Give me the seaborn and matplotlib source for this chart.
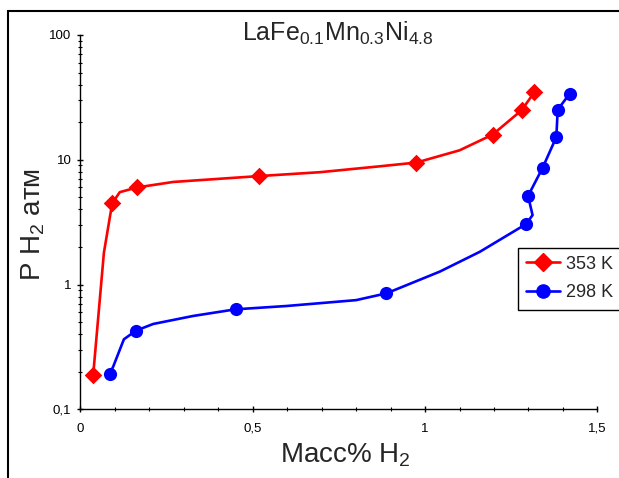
import matplotlib
matplotlib.use("Agg")
import matplotlib.pyplot as plt
import seaborn as sns
from matplotlib.lines import Line2D
from matplotlib.patches import Rectangle
from matplotlib.ticker import FixedLocator, FixedFormatter, NullFormatter

# ---- data ----
t353_x = [0.037, 0.092, 0.164, 0.518, 0.975, 1.196, 1.280, 1.317]
t353_p = [0.19, 4.47, 6.0, 7.4, 9.5, 15.9, 24.9, 34.7]
t353_line_x = [0.037, 0.068, 0.092, 0.114, 0.164, 0.269, 0.518, 0.695, 0.870, 0.975, 1.100, 1.196, 1.280, 1.317]
t353_line_p = [0.19, 1.8, 4.47, 5.5, 6.0, 6.64, 7.4, 7.95, 8.87, 9.5, 11.9, 15.9, 24.9, 34.7]

t298_x = [0.085, 0.161, 0.450, 0.888, 1.293, 1.299, 1.341, 1.381, 1.385, 1.420]
t298_p = [0.193, 0.427, 0.633, 0.85, 3.05, 5.13, 8.6, 15.2, 25.2, 33.9]
t298_line_x = [0.085, 0.095, 0.126, 0.161, 0.211, 0.327, 0.450, 0.598, 0.800, 0.888, 1.043, 1.159, 1.293, 1.312, 1.299, 1.341, 1.381, 1.385, 1.420]
t298_line_p = [0.193, 0.22, 0.364, 0.427, 0.483, 0.56, 0.633, 0.673, 0.75, 0.85, 1.27, 1.83, 3.05, 3.6, 5.13, 8.6, 15.2, 25.2, 33.9]

series_labels = ["353 K", "298 K"]
x_ticks = [0, 0.5, 1, 1.5]
x_tick_labels = ["0", "0,5", "1", "1,5"]
y_ticks = [0.1, 1, 10, 100]
y_tick_labels = ["0,1", "1", "10", "100"]

title = r"LaFe$_{0.1}$Mn$_{0.3}$Ni$_{4.8}$"
xlabel = r"Масс% H$_2$"
ylabel = r"P H$_2$ атм"

# ---- style ----
sns.set_style("ticks")
plt.rcParams["font.family"] = ["Liberation Sans", "DejaVu Sans"]
plt.rcParams["mathtext.fontset"] = "custom"
plt.rcParams["mathtext.rm"] = "Liberation Sans"
plt.rcParams["mathtext.default"] = "regular"

fig = plt.figure(figsize=(6.19, 4.78), dpi=100)
ax = fig.add_axes([0.130, 0.1437, 0.835, 0.7831])

red = "#FF0000"
blue = "#0000FF"
lw = 1.9

sns.lineplot(x=t353_line_x, y=t353_line_p, sort=False, estimator=None,
             color=red, linewidth=lw, ax=ax, legend=False)
sns.lineplot(x=t298_line_x, y=t298_line_p, sort=False, estimator=None,
             color=blue, linewidth=lw, ax=ax, legend=False)
sns.scatterplot(x=t353_x, y=t353_p, marker="D", s=80, color=red,
                edgecolor=red, linewidth=0, ax=ax, legend=False, zorder=3)
sns.scatterplot(x=t298_x, y=t298_p, marker="o", s=90, color=blue,
                edgecolor=blue, linewidth=0, ax=ax, legend=False, zorder=3)

ax.set_yscale("log")
ax.set_xlim(0, 1.5)
ax.set_ylim(0.1, 100)

ax.xaxis.set_major_locator(FixedLocator(x_ticks))
ax.xaxis.set_major_formatter(FixedFormatter(x_tick_labels))
ax.xaxis.set_minor_locator(FixedLocator([i / 10 for i in range(16)]))
ax.yaxis.set_major_locator(FixedLocator(y_ticks))
ax.yaxis.set_major_formatter(FixedFormatter(y_tick_labels))
ax.yaxis.set_minor_formatter(NullFormatter())

ax.tick_params(axis="x", which="major", direction="inout", length=5,
               width=1, labelsize=9.5, pad=7, color="black", labelcolor="black")
ax.tick_params(axis="y", which="major", direction="inout", length=5,
               width=1, labelsize=9.5, pad=4, color="black", labelcolor="black")
ax.tick_params(axis="both", which="minor", direction="inout", length=3,
               width=0.8, color="black")
for s in ["top", "right"]:
    ax.spines[s].set_visible(False)
for s in ["left", "bottom"]:
    ax.spines[s].set_color("black")
    ax.spines[s].set_linewidth(1.0)

ax.set_xlabel(xlabel, fontsize=20)
ax.xaxis.set_label_coords(0.512, -0.085)
ax.set_ylabel(ylabel, fontsize=20)
ax.yaxis.set_label_coords(-0.065, 0.495)

ax.text(0.497, 0.985, title, transform=ax.transAxes, ha="center",
        va="baseline", fontsize=18)

handles = [
    Line2D([], [], color=red, marker="D", markersize=9, linewidth=lw),
    Line2D([], [], color=blue, marker="o", markersize=9.5, linewidth=lw),
]
leg = ax.legend(handles, series_labels, loc="upper left",
                bbox_to_anchor=(0.846, 0.432), fontsize=13, frameon=True,
                fancybox=False, edgecolor="black", framealpha=1,
                handlelength=1.9, handletextpad=0.3, borderpad=0.45,
                labelspacing=0.65, borderaxespad=0)
leg.get_frame().set_linewidth(1.0)

# outer figure frame
fig.patches.append(Rectangle((8 / 619, -0.1), 1.2, 1.1 - 11 / 478,
                             transform=fig.transFigure, fill=False,
                             edgecolor="black", linewidth=1.5))

fig.savefig("out.png", dpi=100)
